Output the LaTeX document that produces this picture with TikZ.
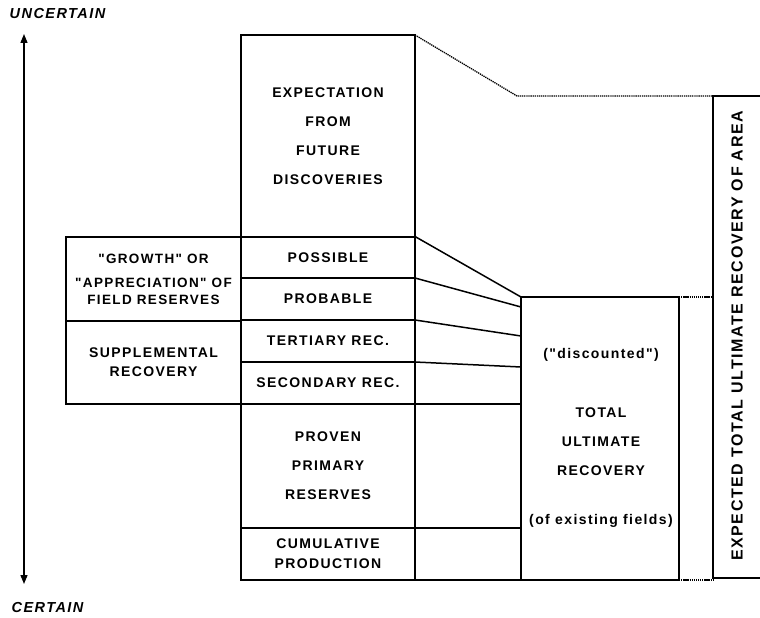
\documentclass[tikz,border=0pt]{standalone}
\usepackage{fontspec}
\setmainfont{Liberation Sans}[LetterSpace=10]
\newfontfamily\lblfam{Liberation Sans}[LetterSpace=10]
\usetikzlibrary{arrows.meta,calc}
\newcommand\lblfont{\lblfam\bfseries\fontsize{14}{29}\selectfont}
\tikzset{
  box/.style={draw, line width=2pt, inner sep=0pt, outer sep=0pt, align=center, font=\lblfont},
  txt/.style={inner sep=0pt, align=center, font=\lblfont},
  thinline/.style={line width=1.5pt},
  dotline/.style={line width=1.3pt, dash pattern=on 1.3pt off 0.8pt},
  axisarrow/.style={line width=1.3pt, {Triangle[length=9pt,width=7pt]}-{Triangle[length=9pt,width=7pt]}},
  tagtext/.style={inner sep=0pt, font=\lblfam\bfseries\itshape\fontsize{14.5}{16}\selectfont}
}
\begin{document}
\begin{tikzpicture}[x=1pt,y=-1pt]
\clip (0,0) rectangle (760,618);
\fill[white] (0,0) rectangle (760,618);
% main column
\node[box, minimum width=174pt, minimum height=202pt] (exp) at (328,136) {EXPECTATION\\FROM\\FUTURE\\DISCOVERIES};
\node[box, minimum width=174pt, minimum height=41.5pt] (poss) at (328,257.25) {POSSIBLE};
\node[box, minimum width=174pt, minimum height=42pt] (prob) at (328,299) {PROBABLE};
\node[box, minimum width=174pt, minimum height=42pt] (tert) at (328,341) {TERTIARY REC.};
\node[box, minimum width=174pt, minimum height=42pt] (sec) at (328,383) {SECONDARY REC.};
\node[box, minimum width=174pt, minimum height=124pt, font=\lblfam\bfseries\fontsize{14}{29}\selectfont] (prov) at (328,466) {PROVEN\\PRIMARY\\RESERVES};
\node[box, minimum width=174pt, minimum height=52pt, font=\lblfam\bfseries\fontsize{14}{20}\selectfont] (cum) at (328,554) {CUMULATIVE\\PRODUCTION};
% left boxes
\node[box, minimum width=175pt, minimum height=84pt, font=\lblfam\bfseries\fontsize{13.5}{17}\selectfont] (grow) at (153.5,279) {"GROWTH" OR\\[7pt]"APPRECIATION" OF\\FIELD RESERVES};
\node[box, minimum width=175pt, minimum height=83pt, font=\lblfam\bfseries\fontsize{14}{19}\selectfont] (supp) at (153.5,362.5) {SUPPLEMENTAL\\RECOVERY};
% middle boxes
\node[box, minimum width=106pt, minimum height=124pt] (mid1) at (468,466) {};
\node[box, minimum width=106pt, minimum height=52pt] (mid2) at (468,554) {};
% total ultimate recovery box
\node[box, minimum width=158pt, minimum height=283pt] (tur) at (600,438.5) {};
\node[txt] (disc) at (601,355) {("discounted")};
\node[txt] (totl) at (601,442) {TOTAL\\ULTIMATE\\RECOVERY};
\node[txt] (exis) at (601,521) {(of existing fields)};
% tall area box
\node[box, minimum width=80pt, minimum height=482.5pt] (tall) at (753,336.75) {};
\node[txt, rotate=90, font=\lblfam\bfseries\fontsize{16}{18}\selectfont] (area) at (737,336) {EXPECTED TOTAL ULTIMATE RECOVERY OF AREA};
% connectors
\coordinate (c1) at (521,307);
\coordinate (c2) at (521,336);
\coordinate (c3) at (521,367);
\draw[thinline] (poss.north east) -- (tur.north west);
\draw[thinline] (prob.north east) -- (c1);
\draw[thinline] (tert.north east) -- (c2);
\draw[thinline] (sec.north east) -- (c3);
\coordinate (bend) at (517,96);
\draw[dotline] (exp.north east) -- (bend) -- (bend -| tall.west);
\draw[dotline] (tur.north east) -- (tur.north east -| tall.west);
\draw[dotline] (tur.south east) -- (tur.south east -| tall.west);
% axis
\node[tagtext] (unc) at (57.5,14) {UNCERTAIN};
\node[tagtext] (cer) at (47.5,608) {CERTAIN};
\coordinate (atop) at (24,34);
\coordinate (abot) at (24,584);
\draw[axisarrow] (atop) -- (abot);
\end{tikzpicture}
\end{document}
